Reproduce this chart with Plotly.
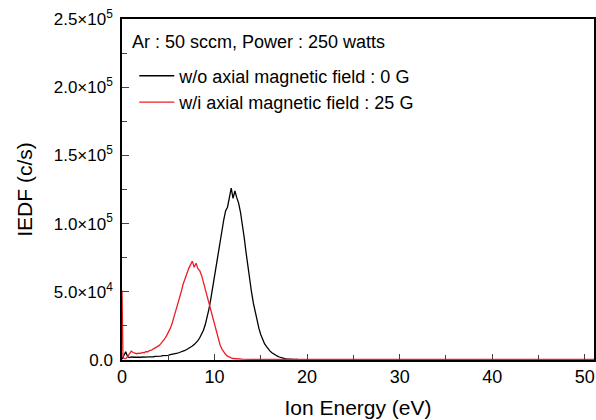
import plotly.graph_objects as go

# Ion energy (eV) grid and IEDF values (counts/s)
energy_0g = [0.0, 0.2, 0.4, 0.6, 0.8, 1.0, 1.2, 1.4, 1.6, 1.8, 2.0, 2.2, 2.4, 2.6, 2.8, 3.0,
             3.2, 3.4, 3.6, 3.8, 4.0, 4.2, 4.4, 4.6, 4.8, 5.0, 5.2, 5.4, 5.6, 5.8, 6.0,
             6.2, 6.4, 6.6, 6.8, 7.0, 7.2, 7.4, 7.6, 7.8, 8.0, 8.2, 8.4, 8.6, 8.8, 9.0,
             9.2, 9.4, 9.6, 9.8, 10.0, 10.2, 10.4, 10.6, 10.8, 11.0, 11.2, 11.4, 11.6, 11.8, 12.0,
             12.2, 12.4, 12.6, 12.8, 13.0, 13.2, 13.4, 13.6, 13.8, 14.0, 14.2, 14.4, 14.6, 14.8, 15.0,
             15.2, 15.4, 15.6, 15.8, 16.0, 16.2, 16.4, 16.6, 16.8, 17.0, 17.2, 17.4, 17.6, 17.8, 18.0,
             18.5, 19.0, 20.0, 25.0, 30.0, 35.0, 40.0, 45.0, 51.0]
iedf_0g = [500, 3500, 6000, 2500, 1800, 2200, 1900, 2000, 2100, 1900, 2000, 2200, 2000, 2100, 2300, 2200,
           2500, 2400, 2700, 2600, 2900, 2800, 3200, 3100, 3500, 3400, 3900, 4100, 4500, 4600, 5100,
           5500, 5900, 6400, 7100, 7700, 8400, 9300, 10200, 11300, 12600, 14200, 16300, 18800, 21800, 26000,
           31500, 37500, 45000, 53500, 62500, 71500, 79000, 89000, 96000, 103000, 109500, 112000, 119000, 126000, 118500,
           124000, 119000, 115000, 108500, 100500, 90000, 79000, 68000, 58500, 49500, 41500, 34500, 28500, 23000, 18500,
           15000, 12000, 10000, 8000, 6500, 5300, 4300, 3400, 2800, 2200, 1700, 1300, 1000, 800, 600,
           450, 350, 300, 250, 250, 250, 250, 250, 250]

energy_25g = [0.0, 0.1, 0.2, 0.4, 0.6, 0.8, 1.0, 1.2, 1.4, 1.6, 1.8, 2.0, 2.2, 2.4, 2.6, 2.8, 3.0,
              3.2, 3.4, 3.6, 3.8, 4.0, 4.2, 4.4, 4.6, 4.8, 5.0, 5.2, 5.4, 5.6, 5.8, 6.0,
              6.2, 6.4, 6.6, 6.8, 7.0, 7.2, 7.4, 7.6, 7.8, 8.0, 8.2, 8.4, 8.6, 8.8, 9.0,
              9.2, 9.4, 9.6, 9.8, 10.0, 10.2, 10.4, 10.6, 10.8, 11.0, 11.2, 11.4, 11.6, 11.8, 12.0,
              12.5, 13.0, 14.0, 20.0, 30.0, 40.0, 51.0]
iedf_25g = [51000, 3000, 1200, 1000, 2500, 4500, 6500, 5500, 4800, 4600, 5000, 4900, 5500, 5300, 6200, 6000, 7000,
            7300, 8200, 8800, 10000, 10500, 12000, 13500, 15500, 17500, 20000, 23000, 26500, 31000, 35500, 40500,
            45500, 50000, 55500, 60000, 63000, 67000, 70000, 72500, 68000, 71000, 67000, 65500, 62000, 57000, 52000,
            46000, 41000, 35000, 30000, 25000, 20500, 15500, 11000, 8000, 5500, 4000, 2800, 2000, 1500, 1100,
            800, 600, 500, 500, 500, 500, 500]

x_ticks = [0, 10, 20, 30, 40, 50]
y_ticks = [0, 50000, 100000, 150000, 200000, 250000]
y_ticktext = ["0.0", "5.0×10<sup>4</sup>", "1.0×10<sup>5</sup>", "1.5×10<sup>5</sup>",
              "2.0×10<sup>5</sup>", "2.5×10<sup>5</sup>"]
condition_text = "Ar : 50 sccm, Power : 250 watts"

fig = go.Figure()
fig.add_trace(go.Scatter(x=energy_0g, y=iedf_0g, mode="lines",
                         line=dict(color="black", width=1.3),
                         name="w/o axial magnetic field : 0 G"))
fig.add_trace(go.Scatter(x=energy_25g, y=iedf_25g, mode="lines",
                         line=dict(color="#ee1c24", width=1.3),
                         name="w/i axial magnetic field : 25 G"))

font_family = "Liberation Sans, Arial, sans-serif"
fig.add_annotation(text=condition_text, xref="paper", yref="paper",
                   x=0.018, y=0.9326, xanchor="left", yanchor="middle",
                   showarrow=False, font=dict(size=18))

fig.update_layout(
    width=596, height=420,
    margin=dict(l=122, r=2, t=19, b=60),
    paper_bgcolor="white", plot_bgcolor="white",
    font=dict(family=font_family, color="black"),
    showlegend=True,
    legend=dict(
        x=0.026, y=0.887, xanchor="left", yanchor="top",
        bgcolor="rgba(0,0,0,0)",
        font=dict(size=18),
        itemwidth=35,
    ),
    xaxis=dict(
        range=[0, 51], tickvals=x_ticks, ticks="inside", ticklen=6, tickwidth=1.2,
        showline=True, linecolor="black", linewidth=1.5, mirror=True,
        showgrid=False, zeroline=False, automargin=False,
        tickfont=dict(size=18),
        minor=dict(dtick=5, ticks="inside", ticklen=5, tickwidth=1.2, showgrid=False),
        title=dict(text="Ion Energy (eV)", font=dict(size=21), standoff=14),
    ),
    yaxis=dict(
        range=[0, 250000], tickvals=y_ticks, ticktext=y_ticktext, ticks="inside",
        ticklen=7, tickwidth=1.2, ticklabelstandoff=4,
        showline=True, linecolor="black", linewidth=1.5, mirror=True,
        showgrid=False, zeroline=False, automargin=False,
        tickfont=dict(size=17),
        minor=dict(dtick=25000, ticks="inside", ticklen=5, tickwidth=1.2, showgrid=False),
        title=dict(text="IEDF (c/s)", font=dict(size=21), standoff=15),
    ),
)

fig.write_html("out.html", config={"displayModeBar": False},
               post_script="document.body.style.margin='0';")
